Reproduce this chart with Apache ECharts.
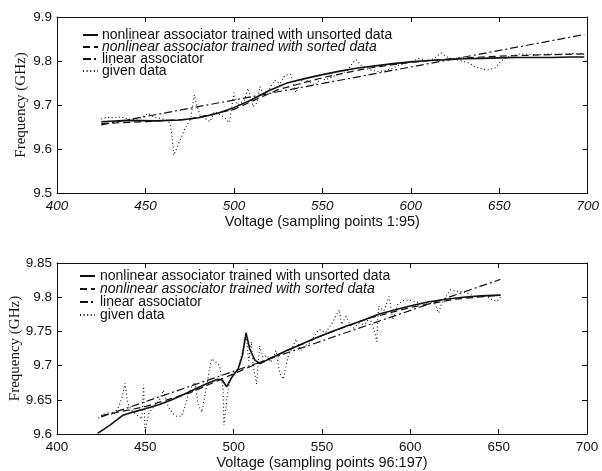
<!DOCTYPE html>
<html><head><meta charset="utf-8">
<script src="https://cdn.jsdelivr.net/npm/echarts@6/dist/echarts.min.js"></script>
<style>html,body{margin:0;padding:0;background:#fff}#c{width:602px;height:471px}</style>
</head><body><div id="c"></div>
<script>
// ---------- tick settings ----------
const xTicks = [400, 450, 500, 550, 600, 650, 700];
const topYTicks = [9.5, 9.6, 9.7, 9.8, 9.9];
const botYTicks = [9.6, 9.65, 9.7, 9.75, 9.8, 9.85];

const names = [
  'nonlinear associator trained with unsorted data',
  'nonlinear associator trained with sorted data',
  'linear associator',
  'given data'
];

// ---------- top plot (sampling points 1:95) ----------
const topUnsortedX = [425,440,455,470,480,490,500,510,520,530,540,550,560,570,580,590,600,610,620,630,640,650,660,670,680,690,698];
const topUnsortedY = [9.662,9.665,9.664,9.666,9.671,9.680,9.694,9.712,9.733,9.750,9.760,9.769,9.777,9.784,9.789,9.794,9.798,9.801,9.803,9.805,9.806,9.807,9.808,9.808,9.808,9.809,9.809];
const topSortedX = [425,450,475,500,525,550,575,600,625,650,675,698];
const topSortedY = [9.658,9.662,9.668,9.690,9.735,9.762,9.783,9.797,9.806,9.811,9.814,9.816];
const topLinearX = [425, 698];
const topLinearY = [9.655, 9.860];
const topDataX = [425,428,432,436,440,444,448,451.6,455,458,461,463.8,465,466,467.5,469,470.5,472,474,475.5,477.6,479,480.8,483,486.5,489,492,494.5,497.5,500,502,504,506,508,510.9,513,514.7,517,520,523,526,529,532,535,539,543,546,549,552,556,560,564,567,569,572,575,577,581,585,589,593,597,601,605,609,613,617,621,625,629,633,636,640,644,648,651,654,657,662,667,672,677,682,687,692,698];
const topDataY = [9.668,9.672,9.671,9.673,9.668,9.667,9.672,9.681,9.672,9.670,9.668,9.659,9.630,9.586,9.600,9.615,9.628,9.644,9.658,9.668,9.723,9.700,9.677,9.671,9.662,9.685,9.678,9.672,9.660,9.728,9.700,9.705,9.711,9.738,9.696,9.705,9.742,9.722,9.735,9.757,9.748,9.768,9.770,9.728,9.760,9.752,9.745,9.760,9.757,9.765,9.770,9.778,9.795,9.803,9.790,9.783,9.780,9.776,9.778,9.782,9.790,9.795,9.800,9.806,9.800,9.805,9.818,9.808,9.803,9.800,9.795,9.787,9.782,9.780,9.785,9.800,9.808,9.812,9.816,9.815,9.814,9.816,9.815,9.816,9.817,9.815];

// ---------- bottom plot (sampling points 96:197) ----------
const botUnsortedX = [423,430,437,443,450,458,465,472,480,486,491,493.5,496,499,502.5,505,507,509,512,515,522,530,538,545,555,564,573,582,592,601,610,620,630,640,651];
const botUnsortedY = [9.601,9.613,9.627,9.632,9.637,9.643,9.650,9.658,9.668,9.675,9.680,9.679,9.669,9.683,9.695,9.715,9.748,9.725,9.708,9.703,9.712,9.722,9.731,9.739,9.749,9.758,9.766,9.775,9.782,9.788,9.793,9.797,9.800,9.802,9.803];
const botSortedX = [425,450,475,500,525,550,575,600,625,651];
const botSortedY = [9.627,9.640,9.660,9.688,9.716,9.744,9.768,9.785,9.797,9.803];
const botLinearX = [425, 651];
const botLinearY = [9.625, 9.826];
const botDataX = [423.5,426,429,432,435,437,438.5,440,442,445,448,449,449.8,452,455.4,458,460.2,463,465.5,467.7,470.5,472.5,474.3,476,478,480,482,484.6,486,487.4,490,492,494,494.5,496.5,498.7,502.5,505.3,507,508.5,510,511,513,514.7,516.6,519,521,524,526,528,531,533,535.4,538,541,544,546,548.5,552,556,559.8,561,563.6,566,568,571,574,577,579.5,581,582,585,588,590,593,596,599,602,605,608,611,614,616,617.5,620,622.8,626,630,634,637,640,643,646,649,651];
const botDataY = [9.623,9.628,9.631,9.628,9.640,9.655,9.674,9.645,9.635,9.628,9.622,9.672,9.604,9.630,9.642,9.650,9.664,9.640,9.630,9.626,9.626,9.640,9.657,9.668,9.676,9.642,9.632,9.669,9.690,9.710,9.705,9.700,9.666,9.613,9.660,9.686,9.695,9.724,9.746,9.707,9.735,9.700,9.673,9.729,9.712,9.715,9.705,9.722,9.690,9.680,9.715,9.725,9.739,9.722,9.730,9.735,9.745,9.753,9.748,9.763,9.782,9.760,9.772,9.760,9.755,9.762,9.760,9.770,9.752,9.735,9.787,9.780,9.801,9.767,9.790,9.795,9.796,9.794,9.792,9.787,9.795,9.790,9.777,9.789,9.800,9.811,9.809,9.808,9.804,9.800,9.801,9.801,9.797,9.794,9.800];

function pairs(xs, ys){ return xs.map((x,i)=>[x, ys[i]]); }

const INK = '#111';
const styles = [
  {width:1.6, type:'solid'},
  {width:1.2, type:[7,4]},
  {width:1.2, type:[8,3,2,3]},
  {width:1.1, type:[1,2.6]}
];

function xAx(grid, pos, title, italic){
  const ax = {
    type:'value', gridIndex:grid, position:pos, min:400, max:700, interval:50,
    splitLine:{show:false},
    axisLine:{show:true, onZero:false, lineStyle:{color:INK, width:1}},
    axisTick:{show:true, inside:true, length:5, lineStyle:{color:INK}},
    axisLabel:{show:pos==='bottom', margin:6, color:INK, fontFamily:'Liberation Sans', fontSize:13.5,
      fontStyle: italic ? 'italic' : 'normal',
      customValues: xTicks}
  };
  if (title){
    ax.name = title; ax.nameLocation = 'middle'; ax.nameGap = 21;
    ax.nameTextStyle = {color:INK, fontFamily:'Liberation Sans', fontSize:14.5};
  }
  return ax;
}
function yAx(grid, pos, min, max, step, ticks, gap){
  const ax = {
    type:'value', gridIndex:grid, position:pos, min:min, max:max, interval:step,
    splitLine:{show:false},
    axisLine:{show:true, onZero:false, lineStyle:{color:INK, width:1}},
    axisTick:{show:true, inside:true, length:5, lineStyle:{color:INK}},
    axisLabel:{show:pos==='left', margin:5, color:INK, fontFamily:'Liberation Sans', fontSize:13.5,
      customValues: ticks}
  };
  if (pos==='left'){
    ax.name = 'Frequency (GHz)'; ax.nameLocation='middle'; ax.nameGap=gap;
    ax.nameMoveOverlap = false;
    ax.nameTextStyle = {color:INK, fontFamily:'Liberation Serif', fontSize:15};
  }
  return ax;
}

function mkSeries(xi, yi, sets){
  return sets.map((s,i)=>({
    name:names[i], type:'line', xAxisIndex:xi, yAxisIndex:yi,
    data:s, symbol:'none', showSymbol:false, silent:true, animation:false,
    lineStyle:{color:INK, width:styles[i].width, type:styles[i].type},
    itemStyle:{color:INK}
  }));
}

function legend(left, top, gap, pad){
  return {
    orient:'vertical', left:left, top:top, itemWidth:15, itemHeight:13, itemGap:gap,
    selectedMode:false, inactiveColor:INK,
    itemStyle:{color:'rgba(0,0,0,0)', borderWidth:0, opacity:0},
    textStyle:{color:INK, fontFamily:'Liberation Sans', fontSize:14, padding:[0,0,0,pad]},
    data:[
      {name:names[0]},
      {name:names[1], textStyle:{fontStyle:'italic'}},
      {name:names[2]},
      {name:names[3]}
    ]
  };
}

const chart = echarts.init(document.getElementById('c'), null, {renderer:'canvas'});
chart.setOption({
  backgroundColor:'#fff',
  animation:false,
  grid:[
    {left:57, right:14, top:17, height:176},
    {left:55, right:15, top:263, height:173}
  ],
  xAxis:[
    xAx(0,'bottom','Voltage (sampling points 1:95)', true),
    xAx(0,'top',null,true),
    xAx(1,'bottom','Voltage (sampling points 96:197)', false),
    xAx(1,'top',null,false)
  ],
  yAxis:[
    yAx(0,'left',9.5,9.9,0.1,topYTicks,28),
    yAx(0,'right',9.5,9.9,0.1,topYTicks),
    yAx(1,'left',9.6,9.85,0.05,botYTicks,34),
    yAx(1,'right',9.6,9.85,0.05,botYTicks)
  ],
  legend:[legend(77,23,-2,-1), legend(74,264,-1,0)],
  series:[
    ...mkSeries(0,0,[pairs(topUnsortedX,topUnsortedY), pairs(topSortedX,topSortedY), pairs(topLinearX,topLinearY), pairs(topDataX,topDataY)]),
    ...mkSeries(2,2,[pairs(botUnsortedX,botUnsortedY), pairs(botSortedX,botSortedY), pairs(botLinearX,botLinearY), pairs(botDataX,botDataY)])
  ]
});
</script>
</body></html>
